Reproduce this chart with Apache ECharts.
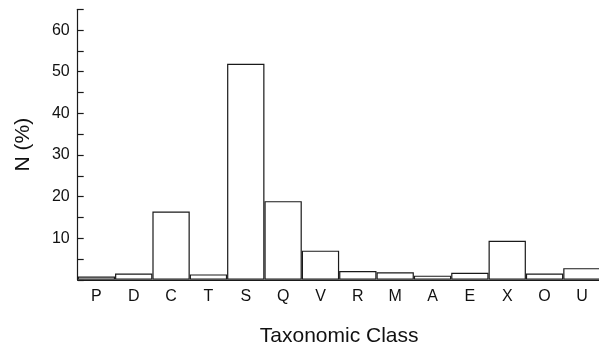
<!DOCTYPE html>
<html>
<head>
<meta charset="utf-8">
<script src="https://cdn.jsdelivr.net/npm/echarts@6/dist/echarts.min.js"></script>
<style>html,body{margin:0;padding:0;background:#fff}#c{width:599px;height:348px}</style>
</head>
<body>
<div id="c"></div>
<script>
var categories = ['P','D','C','T','S','Q','V','R','M','A','E','X','O','U'];
var values = [0.8, 1.5, 16.4, 1.3, 51.9, 18.9, 7.0, 2.1, 1.8, 1.0, 1.7, 9.4, 1.5, 2.8];
var yMax = 65;
var yInterval = 5;
var xTitle = 'Taxonomic Class';
var yTitle = 'N (%)';

var chart = echarts.init(document.getElementById('c'), null, {renderer: 'canvas'});
var font = 'Liberation Sans, Arial, Helvetica, sans-serif';
chart.setOption({
  animation: false,
  backgroundColor: '#fff',
  grid: {left: 77.7, right: -1.6, top: 9.3, bottom: 68.2, containLabel: false, outerBoundsMode: 'none'},
  xAxis: {
    type: 'category',
    data: categories,
    axisLine: {lineStyle: {color: '#1a1a1a', width: 1.2}},
    axisTick: {show: false},
    axisLabel: {color: '#111', fontSize: 16, fontFamily: font, margin: 9},
    name: xTitle,
    nameLocation: 'middle',
    nameGap: 46,
    nameTextStyle: {color: '#111', fontSize: 21, fontFamily: font}
  },
  yAxis: {
    type: 'value',
    min: 0,
    max: yMax,
    interval: yInterval,
    axisLine: {show: true, lineStyle: {color: '#1a1a1a', width: 1.2}},
    axisTick: {show: true, inside: true, length: 6, lineStyle: {color: '#1a1a1a', width: 1.2}},
    splitLine: {show: false},
    axisLabel: {
      color: '#111', fontSize: 16, fontFamily: font, margin: 8,
      formatter: function (v) { return (v > 0 && v % 10 === 0) ? String(v) : ''; }
    },
    name: yTitle,
    nameLocation: 'middle',
    nameGap: 44,
    nameRotate: 90,
    nameTextStyle: {color: '#111', fontSize: 21, fontFamily: font}
  },
  series: [{
    type: 'bar',
    data: values,
    barCategoryGap: '0%',
    itemStyle: {color: '#fff', borderColor: '#1a1a1a', borderWidth: 1.2}
  }]
});
</script>
</body>
</html>
